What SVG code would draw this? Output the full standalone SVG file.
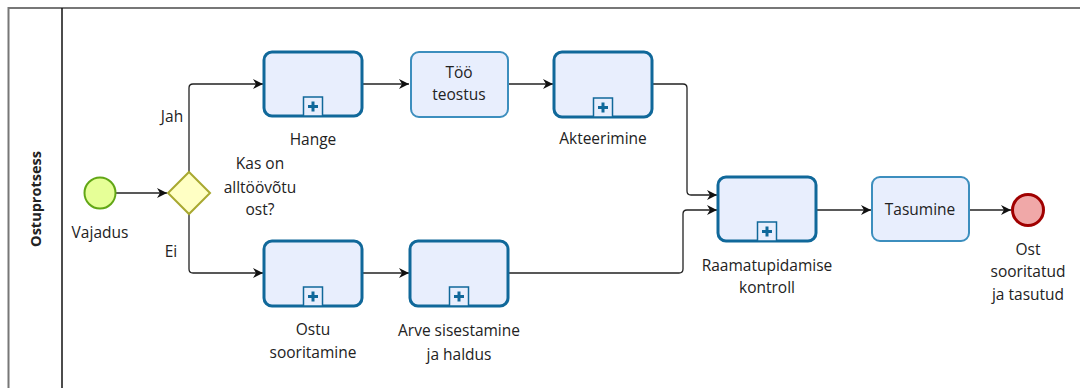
<svg xmlns="http://www.w3.org/2000/svg" width="1080" height="388" viewBox="0 0 1080 388">
<defs>
<style>
text{font-family:"Open Sans","Noto Sans","Liberation Sans",sans-serif;font-size:15.5px;fill:#222;text-anchor:middle}
.sub{fill:#E8EEFD;stroke:#10689A;stroke-width:3}
.task{fill:#E8EEFD;stroke:#3C8EBE;stroke-width:2}
.mk{fill:#E8EEFD;stroke:#10689A;stroke-width:1.5}
.pl{stroke:#10689A;stroke-width:3}
.flow{fill:none;stroke:#222;stroke-width:1.3}
</style>
<marker id="arr" viewBox="0 0 10 10" refX="10" refY="5" markerWidth="10" markerHeight="10" markerUnits="userSpaceOnUse" orient="auto">
<path d="M0,0 L10,5 L0,10 L3,5 Z" fill="#111"/>
</marker>
<g id="plus"><rect class="mk" x="-9.5" y="-19" width="19" height="19"/><path class="pl" d="M-5,-9.5 H5 M0,-14.5 V-4.5"/></g>
</defs>
<g id="pool">
<path d="M1080,8 H8.5 V388" fill="none" stroke="#777" stroke-width="2"/>
<line x1="62" y1="8" x2="62" y2="388" stroke="#111" stroke-width="1.5"/>
<text x="0" y="0" transform="translate(41,199) rotate(-90)" font-weight="bold" style="font-size:14.5px">Ostuprotsess</text>
</g>
<g id="connectors">
<path class="flow" d="M116,193 H167" marker-end="url(#arr)"/>
<path class="flow" d="M189,172 V88 Q189,84 193,84 H263" marker-end="url(#arr)"/>
<path class="flow" d="M189,214 V269 Q189,273 193,273 H263" marker-end="url(#arr)"/>
<path class="flow" d="M362,84 H409" marker-end="url(#arr)"/>
<path class="flow" d="M508,84 H553" marker-end="url(#arr)"/>
<path class="flow" d="M362,273 H409" marker-end="url(#arr)"/>
<path class="flow" d="M653,84 H683 Q687,84 687,88 V191 Q687,195 691,195 H717" marker-end="url(#arr)"/>
<path class="flow" d="M508,273 H679 Q683,273 683,269 V214 Q683,210 687,210 H717" marker-end="url(#arr)"/>
<path class="flow" d="M816,210 H871" marker-end="url(#arr)"/>
<path class="flow" d="M969,210 H1011" marker-end="url(#arr)"/>
<text x="172" y="122">Jah</text>
<text x="171" y="257">Ei</text>
</g>
<g id="start">
<circle cx="100" cy="193" r="15.5" fill="#E6FF97" stroke="#62A716" stroke-width="2"/>
<text x="100" y="238">Vajadus</text>
</g>
<g id="gateway">
<path d="M189,172 L210,193 L189,214 L168,193 Z" fill="#FFFFC4" stroke="#A8A830" stroke-width="2"/>
<text x="260" y="169">Kas on</text>
<text x="260" y="193">alltöövõtu</text>
<text x="260" y="215">ost?</text>
</g>
<g id="hange">
<rect class="sub" x="264" y="52" width="98" height="64" rx="8"/>
<use href="#plus" x="313" y="116"/>
<text x="313" y="145">Hange</text>
</g>
<g id="tooteostus">
<rect class="task" x="411" y="52" width="97" height="65" rx="8"/>
<text x="459" y="78">Töö</text>
<text x="459" y="100">teostus</text>
</g>
<g id="akteerimine">
<rect class="sub" x="554" y="52" width="98" height="65" rx="8"/>
<use href="#plus" x="603" y="117"/>
<text x="603" y="144">Akteerimine</text>
</g>
<g id="ostu">
<rect class="sub" x="264" y="241" width="98" height="65" rx="8"/>
<use href="#plus" x="313" y="306"/>
<text x="313" y="335">Ostu</text>
<text x="313" y="358">sooritamine</text>
</g>
<g id="arve">
<rect class="sub" x="410" y="241" width="98" height="65" rx="8"/>
<use href="#plus" x="459" y="306"/>
<text x="459" y="336">Arve sisestamine</text>
<text x="459" y="360">ja haldus</text>
</g>
<g id="raamatupidamine">
<rect class="sub" x="718" y="177" width="98" height="64" rx="8"/>
<use href="#plus" x="767" y="241"/>
<text x="767" y="271">Raamatupidamise</text>
<text x="767" y="293">kontroll</text>
</g>
<g id="tasumine">
<rect class="task" x="872" y="177" width="97" height="64" rx="8"/>
<text x="920" y="215">Tasumine</text>
</g>
<g id="end">
<circle cx="1028" cy="210" r="15.5" fill="#F0A8A8" stroke="#A00000" stroke-width="3"/>
<text x="1028" y="255">Ost</text>
<text x="1028" y="277">sooritatud</text>
<text x="1028" y="300">ja tasutud</text>
</g>
</svg>
